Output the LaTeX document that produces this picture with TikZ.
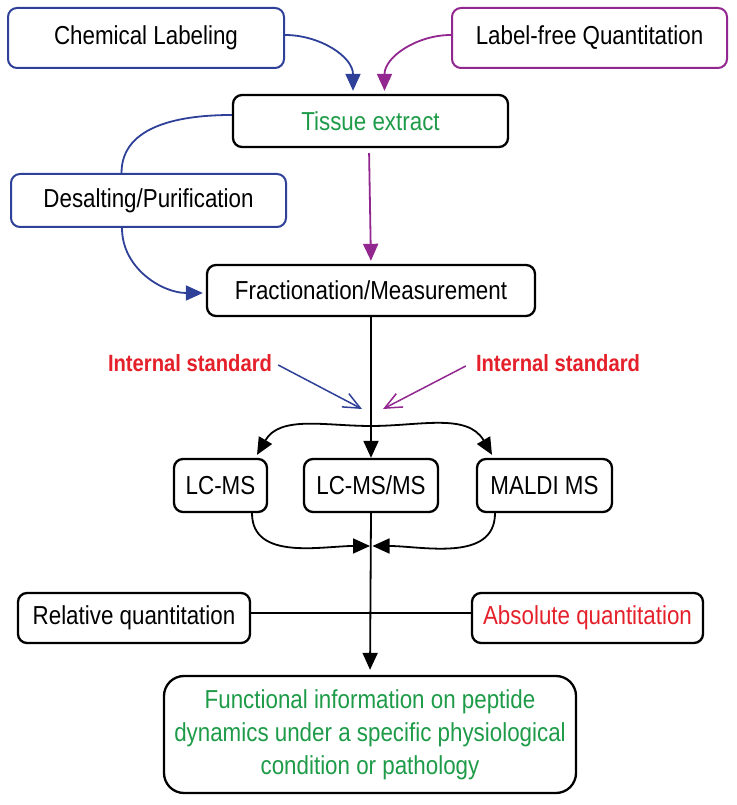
\documentclass[tikz,border=0pt]{standalone}
\usepackage{fontspec}
\setmainfont[FakeStretch=0.86]{Liberation Sans}
\usetikzlibrary{arrows.meta}
\definecolor{cblue}{RGB}{46,64,152}
\definecolor{cpurple}{RGB}{146,39,143}
\definecolor{cgreen}{RGB}{30,155,72}
\definecolor{cred}{RGB}{228,32,42}
\begin{document}
\begin{tikzpicture}[x=1pt,y=1pt,
  box/.style={draw=black, line width=2.3pt, rounded corners=9pt, inner sep=0pt, align=center,
    font=\fontsize{26}{33}\selectfont},
  bbox/.style={box, draw=cblue, line width=2pt},
  pbox/.style={box, draw=cpurple, line width=2pt},
  lbl/.style={inner sep=0pt, text=cred, font=\fontsize{23.5}{28}\selectfont\bfseries},
  tri/.style={-{Triangle[length=17pt,width=15pt]}},
  barb/.style={-{Straight Barb[length=17pt,width=15pt]}},
  conn/.style={line width=1.8pt}]
\path[use as bounding box] (0,0) rectangle (736,805);

% nodes
\node[bbox, minimum width=276pt, minimum height=60pt] (chem) at (146,767) {Chemical Labeling};
\node[pbox, minimum width=275pt, minimum height=60pt] (lf) at (589.5,767) {Label-free Quantitation};
\node[box, minimum width=275pt, minimum height=52pt, text=cgreen] (tissue) at (370.5,684) {Tissue extract};
\node[bbox, minimum width=275pt, minimum height=53pt] (desalt) at (148.5,604.5) {Desalting/Purification};
\node[box, minimum width=328pt, minimum height=51pt] (frac) at (371,514.5) {Fractionation/Measurement};
\node[lbl] (isl) at (190,442) {Internal standard};
\node[lbl] (isr) at (558,442) {Internal standard};
\node[box, minimum width=93pt, minimum height=53pt] (lcms) at (220.5,319.5) {LC-MS};
\node[box, minimum width=134pt, minimum height=53pt] (lcmsms) at (371,319.5) {LC-MS/MS};
\node[box, minimum width=135pt, minimum height=53pt] (maldi) at (544.5,319.5) {MALDI MS};
\node[box, minimum width=232pt, minimum height=50pt] (rel) at (134,187) {Relative quantitation};
\node[box, minimum width=231pt, minimum height=50pt, text=cred] (abs) at (587.5,187) {Absolute quantitation};
\node[box, rounded corners=20pt, minimum width=412pt, minimum height=117pt, text=cgreen] (func) at (370,70.5)
  {Functional information on peptide\\dynamics under a specific physiological\\condition or pathology};

\coordinate (isltip) at (362,396);
\coordinate (isrtip) at (383,396);
\coordinate (split) at (371,379);
\coordinate (merge) at (371,259);

% top connectors
\draw[conn, cblue, tri] ([yshift=3pt]chem.east) to[out=0,in=90] ([xshift=-17.5pt,yshift=3pt]tissue.north);
\draw[conn, cpurple, tri] ([yshift=3pt]lf.west) to[out=180,in=90] ([xshift=14pt,yshift=3pt]tissue.north);
\draw[conn, cblue] ([yshift=6pt]tissue.west) to[out=180,in=90] ([xshift=-27pt]desalt.north);
\draw[conn, cblue, tri] ([xshift=-26.5pt]desalt.south) to[out=-90,in=180] ([xshift=-3pt,yshift=-2.5pt]frac.west);
\draw[conn, cpurple, tri, shorten <=5pt, shorten >=3pt] ([xshift=-1.5pt]tissue.south) -- (frac.north);

% middle
\draw[conn, black, tri] (frac.south) -- (lcmsms.north);
\draw[line width=1.5pt, cblue, barb] ([xshift=6pt,yshift=-2pt]isl.east) -- (isltip);
\draw[line width=1.5pt, cpurple, barb] ([xshift=-10pt,yshift=-3pt]isr.west) -- (isrtip);
\draw[conn, black, tri] (split) to[out=180,in=60] ([xshift=36.5pt,yshift=3pt]lcms.north);
\draw[conn, black, tri] (split) to[out=0,in=120] ([xshift=-52.5pt,yshift=3pt]maldi.north);
\draw[conn, black, tri] ([xshift=31.5pt]lcms.south) to[out=-90,in=180] ([xshift=-1pt]merge);
\draw[conn, black, tri] ([xshift=-49.5pt]maldi.south) to[out=-90,in=0] ([xshift=1.5pt]merge);

% bottom
\draw[conn, black] ([yshift=5pt]rel.east) -- ([yshift=5pt]abs.west);
\draw[conn, black, tri, shorten >=5pt] (lcmsms.south) -- (func.north);
\end{tikzpicture}
\end{document}
